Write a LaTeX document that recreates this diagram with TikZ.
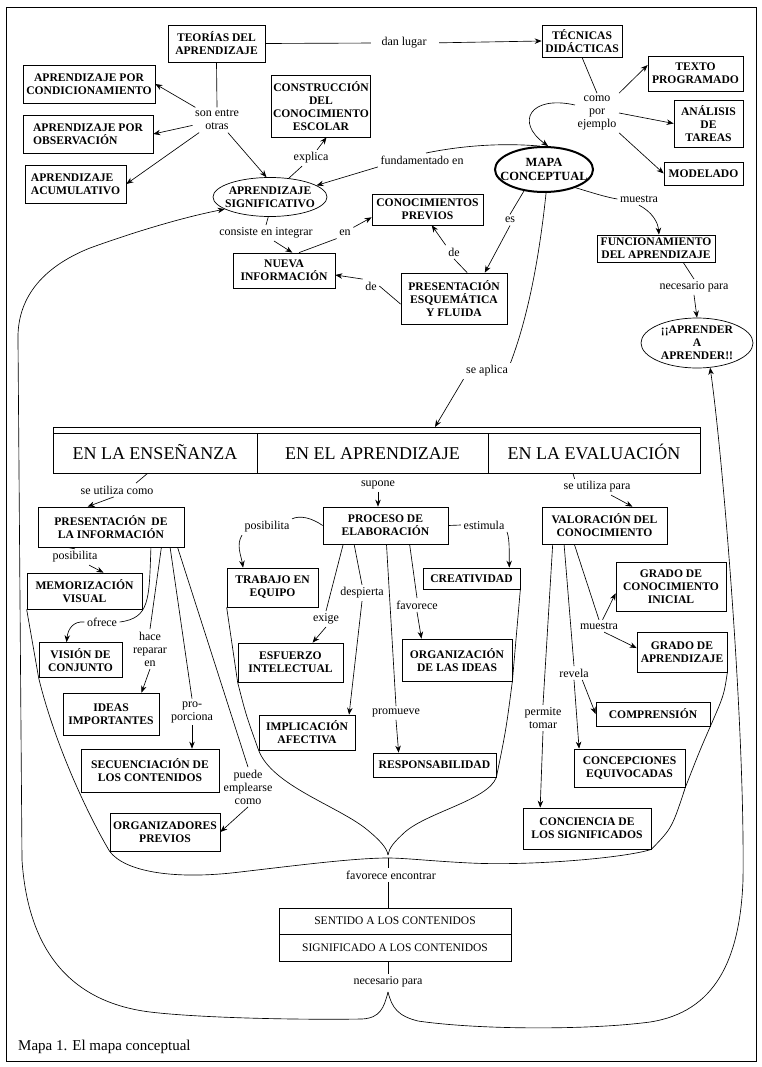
\documentclass[tikz,border=0pt]{standalone}
\usepackage{fontspec}
\setmainfont{Liberation Serif}
\usetikzlibrary{arrows.meta,shapes.geometric}
\tikzset{
 box/.style={draw, line width=0.7pt, font=\fontsize{11.6}{13}\selectfont\bfseries, align=center, inner sep=1.5pt},
 oval/.style={ellipse, draw, line width=0.7pt, font=\fontsize{11.6}{13}\selectfont\bfseries, align=center, inner xsep=-7pt, inner ysep=0pt},
 lbl/.style={font=\fontsize{12}{13}\selectfont, align=center, inner sep=2.5pt},
 hdr/.style={draw, line width=0.7pt, font=\fontsize{18}{20}\selectfont, inner sep=0pt, minimum height=40, text height=12.5pt, text depth=0pt},
 plainbox/.style={draw, line width=0.7pt, font=\fontsize{11.5}{13}\selectfont, inner sep=0pt, minimum width=232},
 ln/.style={line width=0.65pt},
 arr/.style={line width=0.65pt, -{Stealth[length=7pt,width=5.5pt]}},
}
\begin{document}
\begin{tikzpicture}[x=1pt,y=-1pt]
\useasboundingbox (0,0) rectangle (761,1067);
\draw[line width=0.9pt] (6,7) rectangle (756,1061);

% ---------- upper part ----------
\node[box, minimum width=97, minimum height=37] (teorias) at (216.5,43.5) {TEORÍAS DEL\\APRENDIZAJE};
\node[box, minimum width=80, minimum height=32] (tecnicas) at (582,41) {TÉCNICAS\\DIDÁCTICAS};
\node[box, minimum width=132, minimum height=38] (condic) at (89,84) {APRENDIZAJE POR\\CONDICIONAMIENTO};
\node[box, minimum width=130, minimum height=38, align=left] (observ) at (88,134) {APRENDIZAJE POR\\OBSERVACIÓN};
\node[box, minimum width=101, minimum height=38, align=left] (acumul) at (75.5,184) {APRENDIZAJE\\ACUMULATIVO};
\node[box, minimum width=98, minimum height=62] (constr) at (321,106) {CONSTRUCCIÓN\\DEL\\CONOCIMIENTO\\ESCOLAR};
\node[oval, minimum width=114, minimum height=39] (signif) at (270,197) {APRENDIZAJE\\SIGNIFICATIVO};
\node[oval, line width=2pt, inner xsep=-10pt, font=\fontsize{12.5}{13.5}\selectfont\bfseries, minimum width=98, minimum height=45] (mapa) at (544,169.5) {MAPA\\CONCEPTUAL};
\node[box, minimum width=95, minimum height=35] (texto) at (695.5,73.5) {TEXTO\\PROGRAMADO};
\node[box, minimum width=69, minimum height=47] (analisis) at (708.5,123.5) {ANÁLISIS\\DE\\TAREAS};
\node[box, minimum width=79, minimum height=23] (modelado) at (703.5,173.5) {MODELADO};
\node[box, minimum width=118, minimum height=27] (func) at (656,248.5) {FUNCIONAMIENTO\\DEL APRENDIZAJE};
\node[oval, inner xsep=0pt, inner ysep=-1.5pt, minimum width=112, minimum height=50] (aprender) at (697,343) {¡¡APRENDER\\A\\APRENDER!!};
\node[box, minimum width=111, minimum height=31] (conprev) at (427.5,209.5) {CONOCIMIENTOS\\PREVIOS};
\node[box, minimum width=102, minimum height=35] (nueva) at (284,270.5) {NUEVA\\INFORMACIÓN};
\node[box, minimum width=106, minimum height=51] (presesq) at (454,298.5) {PRESENTACIÓN\\ESQUEMÁTICA\\Y FLUIDA};

\node[lbl] (danlugar) at (404,43) {dan lugar};
\node[lbl] (sonentre) at (217,120) {son entre\\otras};
\node[lbl] (explica) at (311,158) {explica};
\node[lbl] (fundam) at (422,160) {fundamentado en};
\node[lbl] (comoej) at (597,113) {como\\por\\ejemplo};
\node[lbl] (muestraA) at (639,199) {muestra};
\node[lbl] (necA) at (694,287) {necesario para};
\node[lbl] (consiste) at (266,233) {consiste en integrar};
\node[lbl] (en) at (345,233) {en};
\node[lbl] (es) at (510,220) {es};
\node[lbl] (deA) at (454,252) {de};
\node[lbl] (deB) at (371,286) {de};
\node[lbl] (seaplica) at (487,371) {se aplica};

% ---------- table ----------
\node[draw, line width=0.7pt, inner sep=0pt, minimum width=647, minimum height=6] (strip) at (376.5,430) {};
\node[hdr, minimum width=204] (colA) at (155,453) {EN LA ENSEÑANZA};
\node[hdr, minimum width=231] (colB) at (372.5,453) {EN EL APRENDIZAJE};
\node[hdr, minimum width=212] (colC) at (594,453) {EN LA EVALUACIÓN};
\coordinate (aplt) at (435,427);

% ---------- left column ----------
\node[box, minimum width=146, minimum height=40] (presinf) at (111,527) {PRESENTACIÓN\enspace DE\\LA INFORMACIÓN};
\node[box, minimum width=115, minimum height=36] (memvis) at (84.5,591) {MEMORIZACIÓN\\VISUAL};
\node[box, minimum width=83, minimum height=35] (vision) at (80.5,660) {VISIÓN DE\\CONJUNTO};
\node[box, minimum width=96, minimum height=42] (ideas) at (111,714) {IDEAS\\IMPORTANTES};
\node[box, minimum width=138, minimum height=43] (secuen) at (150,770.5) {SECUENCIACIÓN DE\\LOS CONTENIDOS};
\node[box, minimum width=110, minimum height=38] (organiz) at (165,832) {ORGANIZADORES\\PREVIOS};

\node[lbl] (seutilcomo) at (117,490) {se utiliza como};
\node[lbl] (posibA) at (75,557) {posibilita};
\node[lbl] (ofrece) at (102,622) {ofrece};
\node[lbl] (hacerep) at (150,649) {hace\\reparar\\en};
\node[lbl] (proporc) at (192,712) {pro-\\porciona};
\node[lbl] (puedeemp) at (248,787) {puede\\emplearse\\como};

% ---------- middle column ----------
\node[box, minimum width=125, minimum height=37] (proceso) at (385.5,525.5) {PROCESO DE\\ELABORACIÓN};
\node[box, minimum width=91, minimum height=39] (trabajo) at (272.5,587.5) {TRABAJO EN\\EQUIPO};
\node[box, minimum width=97, minimum height=21] (creat) at (471.5,578.5) {CREATIVIDAD};
\node[box, minimum width=105, minimum height=39] (esfuerzo) at (290.5,662.5) {ESFUERZO\\INTELECTUAL};
\node[box, minimum width=96, minimum height=35] (implic) at (307,732.5) {IMPLICACIÓN\\AFECTIVA};
\node[box, minimum width=110, minimum height=42] (organid) at (457,660) {ORGANIZACIÓN\\DE LAS IDEAS};
\node[box, minimum width=123, minimum height=24] (respons) at (434.5,765) {RESPONSABILIDAD};

\node[lbl] (supone) at (378,485) {supone};
\node[lbl] (posibB) at (267,527) {posibilita};
\node[lbl] (estimula) at (484,525) {estimula};
\node[lbl] (exige) at (326,619) {exige};
\node[lbl] (despierta) at (362,593) {despierta};
\node[lbl] (favorece) at (417,605) {favorece};
\node[lbl] (promueve) at (396,713) {promueve};

% ---------- right column ----------
\node[box, minimum width=125, minimum height=37] (valor) at (604.5,525.5) {VALORACIÓN DEL\\CONOCIMIENTO};
\node[box, minimum width=110, minimum height=49] (gradoini) at (671,586.5) {GRADO DE\\CONOCIMIENTO\\INICIAL};
\node[box, minimum width=90, minimum height=40] (gradoapr) at (682,652) {GRADO DE\\APRENDIZAJE};
\node[box, minimum width=114, minimum height=24] (compr) at (653,714) {COMPRENSIÓN};
\node[box, minimum width=111, minimum height=38] (concep) at (629.5,768) {CONCEPCIONES\\EQUIVOCADAS};
\node[box, minimum width=128, minimum height=41] (concien) at (587,828.5) {CONCIENCIA DE\\LOS SIGNIFICADOS};

\node[lbl] (seutilpara) at (597,487) {se utiliza para};
\node[lbl] (muestraB) at (599,626) {muestra};
\node[lbl] (revela) at (574,673) {revela};
\node[lbl] (permite) at (543,718) {permite\\tomar};

% ---------- bottom ----------
\coordinate (junc) at (388,858);
\coordinate (vjunc) at (388,855);
\coordinate (peak) at (388,992);
\node[lbl] (favenc) at (391,875) {favorece encontrar};
\node[plainbox, minimum height=26] (sentido) at (395,921) {SENTIDO A LOS CONTENIDOS};
\node[plainbox, minimum height=27] (signific) at (395,947.5) {SIGNIFICADO A LOS CONTENIDOS};
\node[lbl] (necB) at (388,982) {necesario para};
\node[anchor=west, font=\fontsize{15}{17}\selectfont, inner sep=0pt] (caption) at (18,1047) {Mapa 1. El mapa conceptual};

% ---------- connectors: upper ----------
\draw[ln, shorten >=8pt] (teorias.east) -- (danlugar.west);
\draw[arr, shorten <=10pt] (danlugar.east) -- (tecnicas.west);
\draw[ln] (teorias.south) -- (sonentre.north);
\draw[arr] (sonentre) -- (condic.east);
\draw[arr] (sonentre) -- (observ.east);
\draw[arr] (sonentre) -- (acumul.east);
\draw[arr] (sonentre) -- (signif.100);
\draw[ln] (signif.45) -- (explica);
\draw[arr] (explica) -- (constr.-80);
\draw[ln] (mapa.100) .. controls (505,143) and (465,145) .. (fundam.60);
\draw[arr] (fundam.south west) -- (signif.14);
\draw[ln] (tecnicas.south) -- (comoej.north);
\draw[arr] (comoej.north east) -- (texto.170);
\draw[arr] (comoej.east) -- (analisis.west);
\draw[arr] (comoej.south east) -- (modelado.west);
\draw[arr] (comoej.160) .. controls (530,95) and (515,122) .. (mapa.80);
\draw[ln] (mapa.-30) .. controls (590,192) and (605,197) .. (muestraA.west);
\draw[arr] (muestraA.south) .. controls (652,212) and (658,222) .. (func.78);
\draw[ln] (func.-27) -- (necA.north);
\draw[arr] (necA.south) -- (aprender.north);
\draw[ln] (mapa.-133) -- (es.north);
\draw[arr] (es.south) -- (presesq.40);
\draw[ln] (mapa.-85) .. controls (538,270) and (525,325) .. (seaplica.north east);
\draw[arr] (seaplica.south west) -- (aplt);
\draw[ln] (signif.-95) -- (consiste.north);
\draw[arr] (consiste.-45) -- (nueva.65);
\draw[ln] (nueva.50) -- (en.south west);
\draw[arr] (en.north east) -- (conprev.188);
\draw[ln] (presesq.63) -- (deA.south);
\draw[arr] (deA.north west) -- (conprev.-75);
\draw[ln] (presesq.186) -- (deB.east);
\draw[arr] (deB.north west) -- (nueva.-5);

% ---------- connectors: left column ----------
\draw[ln] (colA.-110) -- (seutilcomo.20);
\draw[arr] (seutilcomo.-115) -- (presinf.139);
\draw[ln] (presinf.-155) -- (posibA.north);
\draw[arr] (posibA.-30) -- (memvis.44);
\draw[ln] (presinf.-27) .. controls (149,600) and (150,618) .. (ofrece.east);
\draw[arr] (ofrece.west) .. controls (74,621) and (68,628) .. (vision.128);
\draw[ln] (presinf.-22) -- (hacerep.north);
\draw[arr] (hacerep.south) -- (ideas.35);
\draw[ln] (presinf.-19) -- (proporc.north);
\draw[arr] (proporc.south) -- (secuen.north -| proporc.south);
\draw[ln] (presinf.-17) -- (puedeemp.north);
\draw[arr] (puedeemp.south) -- (organiz.east);

% ---------- connectors: middle column ----------
\draw[arr] (supone.south) -- (proceso.north -| supone.south);
\draw[ln] (proceso.west) .. controls (312,518) and (300,515) .. (posibB.north east);
\draw[arr] (posibB.south west) .. controls (236,545) and (241,555) .. (trabajo.146);
\draw[ln] (proceso.east) -- (estimula.west);
\draw[arr] (estimula.south east) .. controls (510,540) and (509,555) .. (creat.16);
\draw[ln] (proceso.-156) -- (exige.north);
\draw[arr] (exige.south) -- (esfuerzo.42);
\draw[ln] (proceso.-149) -- (despierta.north);
\draw[arr] (despierta.south) -- (implic.23);
\draw[ln] (proceso.-38) -- (favorece.north);
\draw[arr] (favorece.south) -- (organid.149);
\draw[ln] (proceso.-87) -- (promueve.north);
\draw[arr] (promueve.south) -- (respons.161);

% ---------- connectors: right column ----------
\draw[ln] (colC.-136) -- (seutilpara.160);
\draw[arr] (seutilpara.-30) -- (valor.34);
\draw[ln] (valor.-148) -- (muestraB.north);
\draw[arr] (muestraB.60) -- (gradoini.-173);
\draw[arr] (muestraB.-50) -- (gradoapr.175);
\draw[ln] (valor.-155) -- (revela.north);
\draw[arr] (revela.-40) -- (compr.west);
\draw[arr] (revela.south) -- (concep.159);
\draw[ln] (valor.-160) -- (permite.north);
\draw[arr] (permite.south) -- (concien.156);

% ---------- enclosing curves ----------
\draw[ln] (memvis.south west) -- (vision.south west) .. controls (55,745) and (88,815) .. (organiz.south west)
  .. controls (125,872) and (175,880) .. (240,872) .. controls (300,865) and (355,858) .. (junc);
\draw[ln] (gradoapr.south east) .. controls (724,695) .. (compr.south east) .. controls (700,750) .. (concep.south east)
  .. controls (672,828) .. (concien.south east) .. controls (625,858) and (530,866) .. (470,863)
  .. controls (430,861) and (405,858) .. (junc);
\draw[ln] (trabajo.south west) -- (esfuerzo.south west) .. controls (246,715) .. (implic.south west)
  .. controls (272,785) and (335,805) .. (365,828) .. controls (380,840) and (387,848) .. (vjunc);
\draw[ln] (creat.south east) -- (organid.south east) .. controls (506,730) .. (respons.south east)
  .. controls (488,800) and (428,812) .. (405,832) .. controls (394,842) and (389,848) .. (vjunc);

% ---------- bottom connectors ----------
\draw[ln] (junc) -- (favenc.north -| junc);
\draw[ln] (favenc.south -| junc) -- (sentido.north -| junc);
\draw[ln] (signific.south -| peak) -- (necB.north -| peak);
\draw[arr] (peak) .. controls (384,1008) and (380,1018) .. (362,1019)
  .. controls (300,1020) and (200,1018) .. (150,1012)
  .. controls (70,1002) and (28,950) .. (22,860)
  -- (18,340)
  .. controls (17,300) and (40,268) .. (90,248)
  .. controls (140,230) and (185,217) .. (signif.195);
\draw[arr] (peak) .. controls (392,1008) and (398,1016) .. (418,1021)
  .. controls (480,1030) and (590,1030) .. (650,1022)
  .. controls (715,1012) and (740,960) .. (743,880)
  .. controls (745,720) and (722,450) .. (aprender.-62);
\end{tikzpicture}
\end{document}
